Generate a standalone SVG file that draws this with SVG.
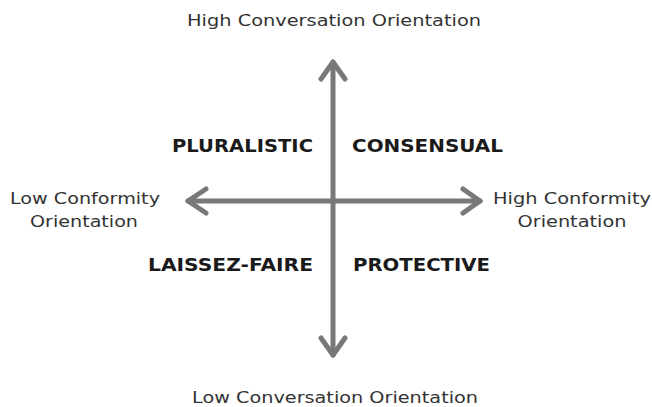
<svg xmlns="http://www.w3.org/2000/svg" width="652" height="407" viewBox="0 0 652 407">
<style>
.ax{stroke:#787878;stroke-width:5;fill:none;stroke-linecap:round;stroke-linejoin:round}
.lbl{font-family:"DejaVu Sans","Liberation Sans",sans-serif;font-size:15px;fill:#333;text-anchor:middle}
.q{font-family:"DejaVu Sans","Liberation Sans",sans-serif;font-size:17px;font-weight:bold;fill:#1a1a1a}
</style>
<rect width="652" height="407" fill="#fff"/>
<g id="connectors">
<line class="ax" x1="333" y1="62" x2="333" y2="355"/>
<line class="ax" x1="188" y1="201" x2="480" y2="201"/>
<polyline class="ax" points="321,79 333,62 345,79"/>
<polyline class="ax" points="321,338 333,355 345,338"/>
<polyline class="ax" points="206,189 188,201 206,213"/>
<polyline class="ax" points="463,189 480,201 463,213"/>
</g>
<g id="high-conversation"><text class="lbl" x="334" y="26" textLength="294" lengthAdjust="spacingAndGlyphs">High Conversation Orientation</text></g>
<g id="low-conversation"><text class="lbl" x="335" y="403" textLength="286" lengthAdjust="spacingAndGlyphs">Low Conversation Orientation</text></g>
<g id="low-conformity">
<text class="lbl" x="85" y="204" textLength="150" lengthAdjust="spacingAndGlyphs">Low Conformity</text>
<text class="lbl" x="84" y="227" textLength="108" lengthAdjust="spacingAndGlyphs">Orientation</text>
</g>
<g id="high-conformity">
<text class="lbl" x="572" y="204" textLength="158" lengthAdjust="spacingAndGlyphs">High Conformity</text>
<text class="lbl" x="572" y="227" textLength="109" lengthAdjust="spacingAndGlyphs">Orientation</text>
</g>
<g id="pluralistic"><text class="q" x="172" y="152" textLength="141" lengthAdjust="spacingAndGlyphs">PLURALISTIC</text></g>
<g id="consensual"><text class="q" x="352" y="152" textLength="151" lengthAdjust="spacingAndGlyphs">CONSENSUAL</text></g>
<g id="laissez-faire"><text class="q" x="148" y="271" textLength="165" lengthAdjust="spacingAndGlyphs">LAISSEZ-FAIRE</text></g>
<g id="protective"><text class="q" x="353" y="271" textLength="137" lengthAdjust="spacingAndGlyphs">PROTECTIVE</text></g>
</svg>
